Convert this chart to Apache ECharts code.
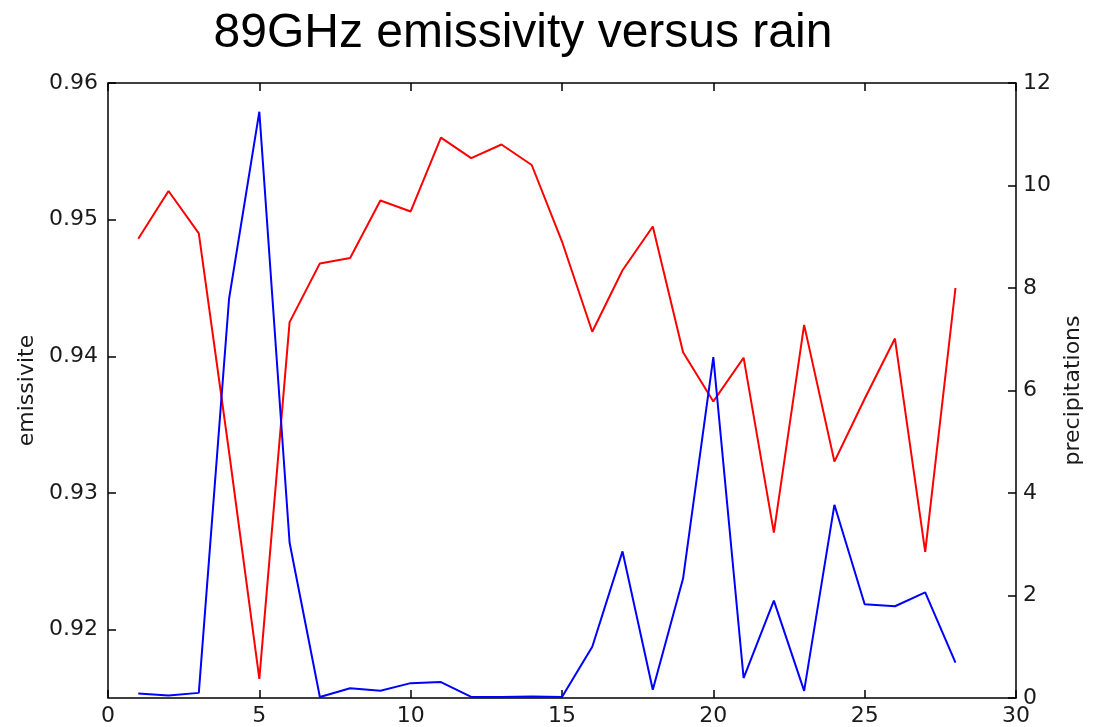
<!DOCTYPE html>
<html>
<head>
<meta charset="utf-8">
<script src="https://cdn.jsdelivr.net/npm/echarts@6/dist/echarts.min.js"></script>
<style>
html,body{margin:0;padding:0;background:#fff;}
#c{width:1099px;height:727px;}
</style>
</head>
<body>
<div id="c"></div>
<script>
const xValues = [1,2,3,4,5,6,7,8,9,10,11,12,13,14,15,16,17,18,19,20,21,22,23,24,25,26,27,28];
const emissivity = [0.9486,0.9521,0.9490,0.9330,0.9164,0.9425,0.9468,0.9472,0.9514,0.9506,0.9560,0.9545,0.9555,0.9540,0.9484,0.9418,0.9463,0.9495,0.9403,0.9367,0.9399,0.9271,0.9423,0.9323,0.9369,0.9413,0.9257,0.9450];
const precipitation = [0.09,0.05,0.10,7.79,11.44,3.03,0.02,0.19,0.14,0.29,0.31,0.02,0.02,0.03,0.02,1.00,2.86,0.16,2.33,6.65,0.39,1.90,0.14,3.77,1.83,1.79,2.06,0.69];
const xTicks = [0,5,10,15,20,25,30];
const leftTicks = [0.92,0.93,0.94,0.95,0.96];
const rightTicks = [0,2,4,6,8,10,12];

const chart = echarts.init(document.getElementById('c'), null, {renderer:'canvas'});
const labelFont = {fontFamily:'DejaVu Sans', fontSize:22, color:'#1a1a1a'};
const tickStyle = {color:'#000', width:1.5};
const noLine = {show:false, onZero:false};

chart.setOption({
  animation:false,
  backgroundColor:'#fff',
  title:{
    text:'89GHz emissivity versus rain',
    left:518, top:5, textAlign:'center',
    textStyle:{fontFamily:'Liberation Sans', fontSize:48, fontWeight:'normal', color:'#000'}
  },
  grid:{left:108, right:83, top:83, bottom:27, show:true, borderColor:'#000', borderWidth:1.5, backgroundColor:'transparent'},
  xAxis:[
    {type:'value', min:xTicks[0], max:xTicks[xTicks.length-1], interval:5, position:'bottom',
     axisLine:noLine, splitLine:{show:false},
     axisTick:{inside:true, length:8, lineStyle:tickStyle},
     axisLabel:Object.assign({margin:7, showMinLabel:true, showMaxLabel:true}, labelFont)},
    {type:'value', min:xTicks[0], max:xTicks[xTicks.length-1], interval:5, position:'top',
     axisLine:noLine, splitLine:{show:false},
     axisTick:{inside:true, length:8, lineStyle:tickStyle},
     axisLabel:{show:false}}
  ],
  yAxis:[
    {type:'value', min:0.915, max:0.96, position:'left',
     axisLine:noLine, splitLine:{show:false},
     axisTick:{inside:true, length:8, lineStyle:tickStyle, customValues:leftTicks},
     axisLabel:Object.assign({margin:10, customValues:leftTicks, formatter:v=>v.toFixed(2)}, labelFont),
     name:'emissivite', nameLocation:'middle', nameGap:68,
     nameTextStyle:labelFont},
    {type:'value', min:rightTicks[0], max:rightTicks[rightTicks.length-1], interval:2, position:'right',
     axisLine:noLine, splitLine:{show:false},
     axisTick:{inside:true, length:8, lineStyle:tickStyle},
     axisLabel:Object.assign({margin:7}, labelFont),
     name:'precipitations', nameLocation:'middle', nameGap:44,
     nameTextStyle:labelFont}
  ],
  series:[
    {type:'line', xAxisIndex:0, yAxisIndex:0, showSymbol:false, symbol:'none',
     data:xValues.map((x,i)=>[x, emissivity[i]]),
     lineStyle:{color:'#ff0000', width:2}, itemStyle:{color:'#ff0000'}},
    {type:'line', xAxisIndex:0, yAxisIndex:1, showSymbol:false, symbol:'none',
     data:xValues.map((x,i)=>[x, precipitation[i]]),
     lineStyle:{color:'#0000ff', width:2}, itemStyle:{color:'#0000ff'}}
  ]
});
</script>
</body>
</html>
